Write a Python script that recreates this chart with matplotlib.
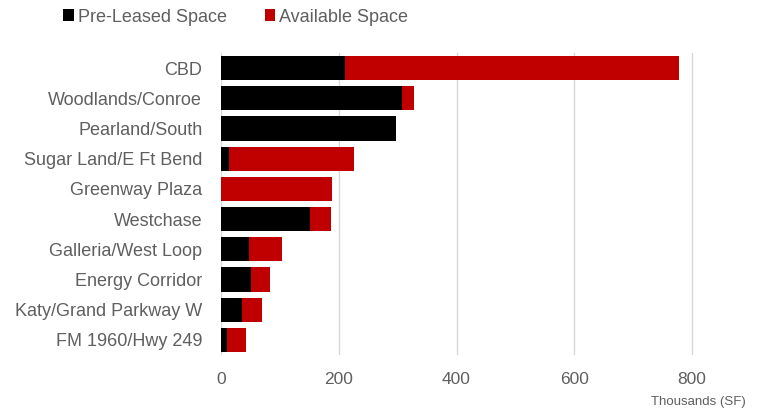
import matplotlib.pyplot as plt
import numpy as np

plt.rcParams['font.family'] = ['Liberation Sans', 'DejaVu Sans']

# Houston submarkets, thousands of SF
submarkets = ['CBD', 'Woodlands/Conroe', 'Pearland/South', 'Sugar Land/E Ft Bend',
              'Greenway Plaza', 'Westchase', 'Galleria/West Loop', 'Energy Corridor',
              'Katy/Grand Parkway W', 'FM 1960/Hwy 249']
pre_leased = [210, 308, 298, 14, 0, 151, 48, 51, 35, 11]
available = [568, 19, 0, 211, 188, 35, 56, 33, 35, 31]
x_ticks = [0, 200, 400, 600, 800]

BLACK = '#000000'
RED = '#c00000'
GRAY = '#5f5f5f'

fig = plt.figure(figsize=(7.6, 4.11), dpi=100)
ax = fig.add_axes([221 / 760, 1 - 355 / 411, 530 / 760, 302 / 411])

y = np.arange(len(submarkets))
ax.barh(y, pre_leased, height=0.8, color=BLACK, label='Pre-Leased Space')
ax.barh(y, available, left=pre_leased, height=0.8, color=RED, label='Available Space')

ax.set_ylim(len(submarkets) - 0.5, -0.5)
ax.set_xlim(0, 900)
ax.set_yticks(y)
ax.set_yticklabels(submarkets)
ax.set_xticks(x_ticks)
ax.tick_params(axis='y', length=0, pad=13.5, labelsize=13, labelcolor=GRAY)
ax.tick_params(axis='x', length=0, pad=12, labelsize=12.5, labelcolor=GRAY)

for s in ax.spines.values():
    s.set_visible(False)
ax.grid(axis='x', color='#d9d9d9', linewidth=1)
ax.set_axisbelow(True)

fig.text(746 / 760, 1 - 402 / 411, 'Thousands (SF)', ha='right', va='center',
         fontsize=9.5, color=GRAY)

fig.legend(loc='center left', bbox_to_anchor=(47 / 760, 1 - 17 / 411), ncol=2,
           frameon=False, fontsize=13, labelcolor=GRAY, handlelength=0.6,
           handleheight=0.6, handletextpad=0.2, columnspacing=2.1)

fig.savefig('out.png', dpi=100)
